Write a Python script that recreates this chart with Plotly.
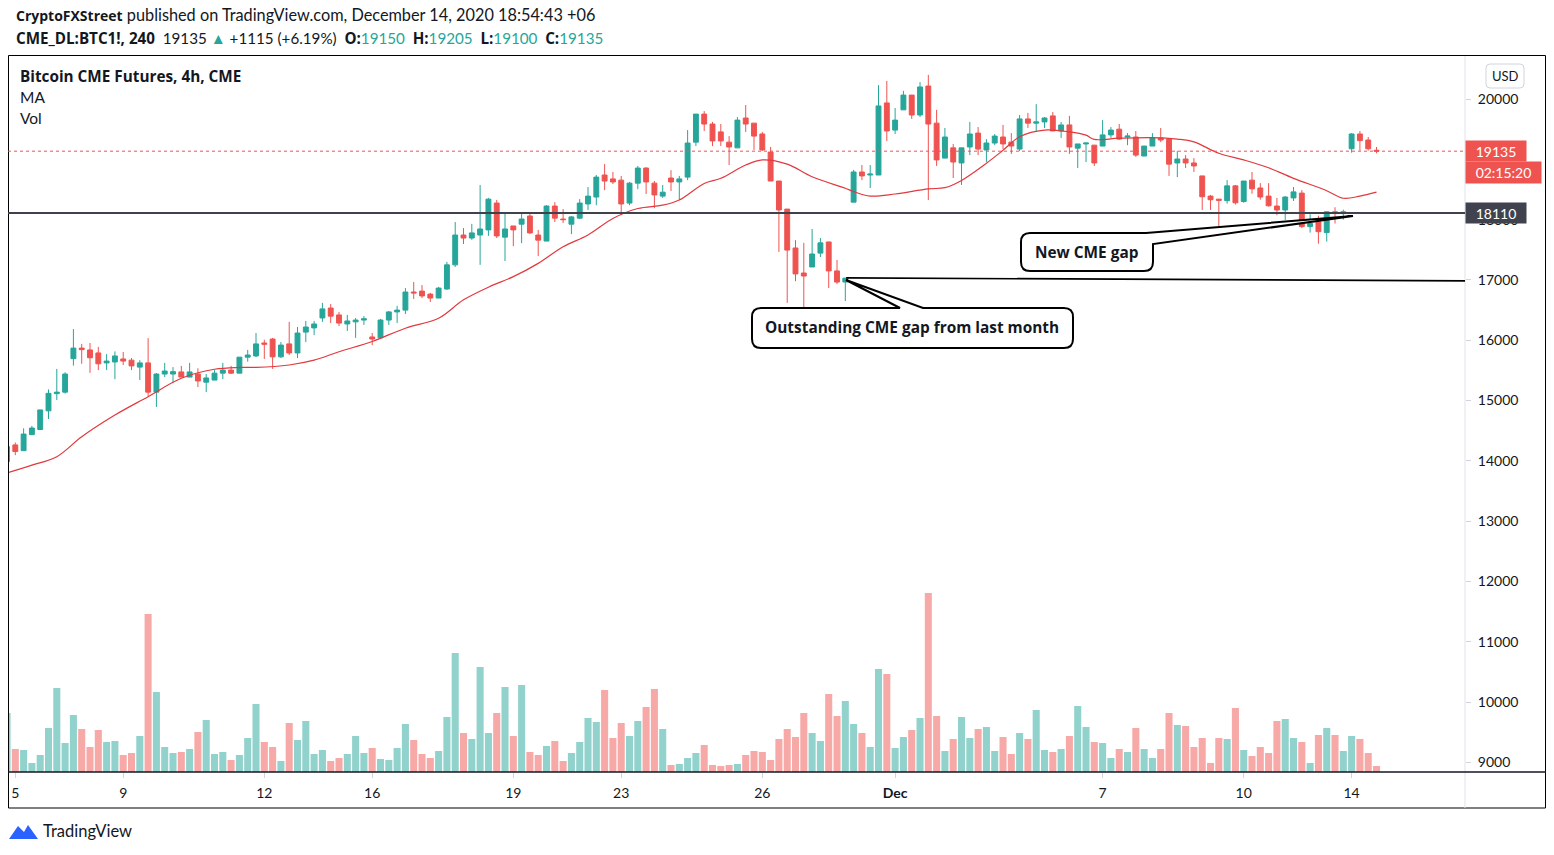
import plotly.graph_objects as go

# 4h CME bitcoin futures bars, Nov 5 - Dec 14 2020
opens = [
    13990, 14265, 14170, 14435, 14520, 14830, 15115, 15140, 15695, 15870,
    15840, 15790, 15625, 15640, 15690, 15670, 15555, 15625, 15140, 15440,
    15440, 15475, 15390, 15440, 15305, 15340, 15455, 15505, 15455, 15720,
    15740, 15955, 16020, 15725, 15940, 15790, 16135, 16205, 16370, 16535,
    16420, 16270, 16305, 16335, 16055, 16040, 16335, 16470, 16500, 16800,
    16815, 16765, 16700, 16850, 17250, 17745, 17695, 17745, 17830, 18275,
    17710, 17895, 17925, 18060, 17745, 17645, 18225, 18010, 17925, 18025,
    18260, 18375, 18740, 18675, 18655, 18275, 18605, 18855, 18605, 18390,
    18690, 18625, 18705, 19285, 19750, 19585, 19455, 19285, 19190, 19685,
    19600, 19420, 19120, 18640, 18175, 17530, 17115, 17215, 17445, 17630,
    17150, 16965, 18290, 18790, 18740, 18740, 19935, 19485, 19820, 20065,
    19735, 20215, 19600, 19020, 19190, 18940, 19205, 19435, 19155, 19270,
    19370, 19285, 19170, 19670, 19600, 19620, 19720, 19470, 19570, 19185,
    19255, 19235, 19220, 19405, 19500, 19370, 19370, 19055, 19220, 19355,
    19335, 18940, 19005, 18940, 18725, 18390, 18340, 18315, 18560, 18300,
    18655, 18525, 18390, 18225, 18160, 18360, 18440, 17885, 17965, 17785,
    18130, 18100, 19175, 19420, 19320, 19150,
]
highs = [
    14260, 14305, 14540, 14580, 14845, 15185, 15525, 15470, 16185, 15940,
    15955, 15890, 15770, 15815, 15805, 15705, 15670, 16035, 15455, 15625,
    15555, 15575, 15625, 15535, 15440, 15505, 15625, 15575, 15720, 15840,
    16120, 16010, 16040, 15970, 16305, 16220, 16320, 16320, 16620, 16600,
    16470, 16420, 16370, 16400, 16120, 16355, 16485, 16570, 16865, 16965,
    16915, 16785, 16885, 17300, 17960, 17860, 17930, 18575, 18360, 18325,
    18095, 17895, 18125, 18095, 17830, 18240, 18290, 18175, 18060, 18340,
    18540, 18740, 18920, 18790, 18725, 18625, 18890, 18870, 18640, 18575,
    18820, 18725, 19485, 19750, 19800, 19620, 19585, 19385, 19700, 19900,
    19600, 19455, 19205, 18640, 18175, 17660, 17615, 17845, 17695, 17630,
    17330, 17030, 18825, 18905, 18905, 20230, 20300, 19850, 20135, 20065,
    20280, 20400, 19820, 19520, 19255, 19190, 19620, 19535, 19335, 19420,
    19570, 19435, 19735, 19770, 19915, 19700, 19785, 19620, 19720, 19255,
    19270, 19235, 19650, 19535, 19585, 19435, 19470, 19220, 19435, 19520,
    19355, 19140, 19070, 19020, 18725, 18410, 18340, 18655, 18575, 18640,
    18790, 18605, 18605, 18360, 18390, 18540, 18490, 18090, 18065, 18130,
    18205, 18165, 19435, 19470, 19370, 19205,
]
lows = [
    13960, 14095, 14170, 14435, 14520, 14695, 15010, 15115, 15580, 15610,
    15460, 15505, 15505, 15355, 15590, 15505, 15340, 15075, 14895, 15390,
    15290, 15390, 15390, 15225, 15140, 15340, 15355, 15440, 15455, 15645,
    15720, 15690, 15525, 15705, 15755, 15705, 15970, 16085, 16305, 16285,
    16235, 16155, 16040, 16255, 15920, 16020, 16255, 16285, 16435, 16685,
    16700, 16635, 16700, 16835, 17215, 17595, 17665, 17250, 17730, 17695,
    17315, 17560, 17610, 17760, 17395, 17645, 17960, 17945, 17760, 18010,
    18160, 18240, 18490, 18590, 18075, 18240, 18505, 18425, 18190, 18360,
    18475, 18325, 18655, 19220, 19470, 19220, 19220, 18905, 19190, 19455,
    19155, 19140, 18640, 17465, 16620, 16980, 16550, 17215, 17380, 16865,
    16930, 16650, 18290, 18655, 18525, 18740, 19305, 19420, 19820, 19670,
    19700, 18325, 18890, 19020, 18690, 18575, 19070, 19070, 18955, 19235,
    19170, 19090, 19135, 19520, 19455, 19520, 19470, 19355, 19090, 18855,
    18955, 18890, 19220, 19355, 19320, 19235, 19040, 19055, 19220, 19285,
    18725, 18705, 18855, 18790, 18160, 18160, 17895, 18265, 18250, 18280,
    18430, 18330, 18215, 18075, 17995, 18310, 17860, 17785, 17600, 17635,
    17935, 18000, 19110, 19145, 19145, 19100,
]
closes = [
    14240, 14155, 14445, 14545, 14845, 15120, 15140, 15440, 15870, 15845,
    15710, 15610, 15655, 15740, 15655, 15575, 15625, 15140, 15440, 15490,
    15480, 15390, 15475, 15325, 15375, 15455, 15505, 15455, 15720, 15755,
    15940, 15935, 15725, 15920, 15790, 16120, 16220, 16270, 16520, 16400,
    16285, 16320, 16335, 16355, 16020, 16335, 16470, 16500, 16800, 16785,
    16735, 16700, 16865, 17250, 17745, 17695, 17780, 17845, 18340, 17730,
    17845, 17830, 18010, 17780, 17660, 18225, 18025, 18000, 18045, 18275,
    18390, 18705, 18640, 18625, 18260, 18605, 18855, 18625, 18410, 18455,
    18625, 18675, 19270, 19750, 19585, 19305, 19305, 19205, 19650, 19585,
    19385, 19155, 18640, 18160, 17495, 17100, 17065, 17430, 17615, 17150,
    16965, 17030, 18790, 18725, 18755, 19885, 19470, 19650, 20065, 19735,
    20200, 19585, 18990, 19370, 18955, 19190, 19420, 19170, 19270, 19385,
    19255, 19220, 19670, 19600, 19620, 19685, 19470, 19570, 19205, 19255,
    19270, 18940, 19405, 19485, 19335, 19385, 19070, 19220, 19355, 19320,
    18920, 19005, 18940, 18890, 18380, 18330, 18320, 18560, 18280, 18640,
    18510, 18375, 18230, 18160, 18375, 18460, 17885, 17935, 17800, 18130,
    18100, 18130, 19420, 19310, 19175, 19135,
]
volumes = [
    590, 230, 220, 90, 170, 440, 840, 290, 570, 430,
    250, 420, 300, 310, 170, 190, 360, 1580, 800, 250,
    190, 200, 230, 400, 520, 180, 200, 120, 170, 340,
    680, 300, 250, 110, 490, 320, 510, 180, 220, 110,
    140, 180, 360, 190, 240, 130, 120, 240, 480, 320,
    180, 140, 210, 550, 1190, 390, 330, 1050, 390, 590,
    850, 360, 870, 200, 170, 260, 310, 110, 190, 300,
    540, 500, 820, 340, 490, 360, 510, 650, 830, 430,
    70, 80, 140, 190, 270, 70, 60, 70, 80, 170,
    210, 200, 120, 330, 430, 350, 590, 390, 310, 780,
    560, 710, 480, 390, 250, 1030, 980, 240, 350, 420,
    540, 1790, 560, 210, 330, 550, 340, 430, 450, 210,
    350, 180, 390, 330, 620, 220, 200, 230, 360, 660,
    450, 300, 290, 140, 230, 200, 440, 230, 140, 230,
    590, 470, 460, 250, 340, 90, 340, 330, 640, 220,
    160, 250, 190, 510, 530, 340, 300, 90, 370, 440,
    370, 210, 360, 330, 190, 60,
]

# moving average line, sampled off the chart (bar index -> price)
ma_bars = [0, 3, 6, 9, 13, 17, 21, 25, 28, 30, 34, 37, 40, 44, 48, 52, 55, 58,
           61, 64, 67, 70, 73, 76, 79, 81, 84, 86, 89, 91, 94, 97, 101, 102,
           104, 107, 111, 113, 115, 118, 120, 122, 125, 128, 130, 131, 134,
           138, 141, 143, 146, 149, 152, 155, 159, 161, 163, 165]
ma_values = [13800, 13930, 14070, 14400, 14760, 15065, 15370, 15520, 15550,
             15550, 15590, 15670, 15810, 15980, 16200, 16365, 16670, 16880,
             17055, 17275, 17550, 17745, 18020, 18185, 18240, 18325, 18600,
             18685, 18905, 18990, 18920, 18710, 18520, 18465, 18390, 18425,
             18510, 18530, 18650, 18935, 19150, 19375, 19485, 19455, 19400,
             19330, 19350, 19360, 19335, 19290, 19100, 18990, 18860, 18685,
             18480, 18355, 18390, 18455]

tick_bars = [1, 14, 31, 44, 61, 74, 91, 107, 132, 149, 162]
tick_labels = ["5", "9", "12", "16", "19", "23", "26", "<b>Dec</b>", "7", "10", "14"]
price_ticks = [9000, 10000, 11000, 12000, 13000, 14000, 15000, 16000, 17000,
               18000, 19000, 20000]
# 19000 sits fully behind the last-price labels on the original
price_labels = ["9000", "10000", "11000", "12000", "13000", "14000", "15000",
                "16000", "17000", "18000", "", "20000"]

last_price = 19135
new_gap_level = 18110
old_gap_start = (101.1, 17035)
old_gap_end = (175.7, 16985)

UP = "#26a69a"
DOWN = "#ef5350"
TXT = "#131722"
FONT = "Lato"
BOLD = "Open Sans"

W, H = 1554, 855
L_PX, R_PX, T_PX, B_PX = 8, 1465, 56, 772   # plot area in pixels


def px(x):
    return (x - L_PX) / (R_PX - L_PX)


def py(y):
    return (B_PX - y) / (B_PX - T_PX)


def box_path(left, right, top, bottom, r, top_pts=None, start_right=None):
    # rounded box; top_pts replace the top-right part of the outline (callout wedge)
    p = f"M {px(left + r)},{py(top)} "
    if top_pts:
        for x, y in top_pts:
            p += f"L {px(x)},{py(y)} "
    if start_right is None:
        p += f"L {px(right - r)},{py(top)} Q {px(right)},{py(top)} {px(right)},{py(top + r)} "
    p += (f"L {px(right)},{py(bottom - r)} Q {px(right)},{py(bottom)} {px(right - r)},{py(bottom)} "
          f"L {px(left + r)},{py(bottom)} Q {px(left)},{py(bottom)} {px(left)},{py(bottom - r)} "
          f"L {px(left)},{py(top + r)} Q {px(left)},{py(top)} {px(left + r)},{py(top)} Z")
    return p


bars = list(range(len(opens)))
vol_colors = ["rgba(38,166,154,0.5)" if c >= o else "rgba(239,83,80,0.5)"
              for o, c in zip(opens, closes)]

fig = go.Figure()
fig.add_trace(go.Bar(
    x=bars, y=volumes, yaxis="y2", marker_color=vol_colors,
    marker_line_width=0, hoverinfo="skip",
))
fig.add_trace(go.Candlestick(
    x=bars, open=opens, high=highs, low=lows, close=closes,
    increasing=dict(line=dict(color=UP, width=1), fillcolor=UP),
    decreasing=dict(line=dict(color=DOWN, width=1), fillcolor=DOWN),
    whiskerwidth=0, hoverinfo="skip",
))
fig.add_trace(go.Scatter(
    x=ma_bars, y=ma_values, mode="lines",
    line=dict(color="#e0393e", width=1.2, shape="spline"), hoverinfo="skip",
))

shapes = [
    # outer frame and separators
    dict(type="rect", xref="paper", yref="paper", x0=px(8.5), x1=px(1545.5),
         y0=py(808), y1=py(55.5), line=dict(color="#000000", width=1), layer="above"),
    dict(type="line", xref="paper", yref="paper", x0=1, x1=1, y0=py(808), y1=py(56),
         line=dict(color="#e0e3eb", width=1)),
    dict(type="line", xref="paper", yref="paper", x0=px(8), x1=px(1546), y0=0, y1=0,
         line=dict(color="#131722", width=1.5)),
    # horizontal levels
    dict(type="line", xref="paper", yref="y", x0=0, x1=1, y0=new_gap_level, y1=new_gap_level,
         line=dict(color="#3f424c", width=2)),
    dict(type="line", xref="paper", yref="y", x0=0, x1=1, y0=last_price, y1=last_price,
         line=dict(color=DOWN, width=1, dash="dot")),
    dict(type="line", xref="x", yref="y", x0=old_gap_start[0], y0=old_gap_start[1],
         x1=old_gap_end[0], y1=old_gap_end[1], line=dict(color="#000000", width=1.6)),
    # callouts
    dict(type="path", xref="paper", yref="paper", fillcolor="#ffffff",
         line=dict(color="#000000", width=2),
         path=box_path(752, 1073, 308, 348, 9, top_pts=[(900, 308), (846, 280), (923, 308)])),
    dict(type="path", xref="paper", yref="paper", fillcolor="#ffffff",
         line=dict(color="#000000", width=2),
         path=box_path(1021, 1153, 233, 271, 9, top_pts=[(1146, 233), (1353, 216), (1153, 244)],
                       start_right=True)),
    # USD box
    dict(type="path", xref="paper", yref="paper", fillcolor="#ffffff",
         line=dict(color="#d1d4dc", width=1), path=box_path(1486, 1524, 64, 88, 4)),
    # TradingView logo (rough)
    dict(type="path", xref="paper", yref="paper", fillcolor="#2962ff", line=dict(width=0),
         path=(f"M {px(9)},{py(839)} L {px(18)},{py(826)} L {px(24)},{py(832)} "
               f"L {px(28)},{py(825)} L {px(38)},{py(839)} Z")),
]


def label(x, y, text, size=14, family=FONT, **kw):
    d = dict(x=px(x), y=py(y), xref="paper", yref="paper", xanchor="left", yanchor="middle",
             showarrow=False, font=dict(size=size, color=TXT, family=family), text=text)
    d.update(kw)
    return d


def b(s, size=None):
    st = f"font-family:{BOLD}"
    if size:
        st += f";font-size:{size}px"
    return f"<span style='{st}'><b>{s}</b></span>"


def teal(s):
    return f"<span style='color:{UP}'>{s}</span>"


annotations = [
    label(14, 15, b("CryptoFXStreet", 14) + " published on TradingView.com, December 14, 2020 18:54:43 +06",
          size=16.3),
    label(14, 38, b("CME_DL:BTC1!, 240") + "&nbsp;&nbsp;19135 " + teal("▲") + " +1115 (+6.19%)&nbsp;&nbsp;"
          + b("O:") + teal("19150") + "&nbsp;&nbsp;" + b("H:") + teal("19205") + "&nbsp;&nbsp;"
          + b("L:") + teal("19100") + "&nbsp;&nbsp;" + b("C:") + teal("19135"), size=15.2),
    label(18, 76, "<b>Bitcoin CME Futures, 4h, CME</b>", size=15.3, family=BOLD),
    label(18, 97, "MA", size=15.5),
    label(18, 118, "Vol", size=15.5),
    label(912, 327, "<b>Outstanding CME gap from last month</b>", size=15.4, family=BOLD,
          xanchor="center"),
    label(1087, 252, "<b>New CME gap</b>", size=15.4, family=BOLD, xanchor="center"),
    label(1505, 76, "USD", size=13, xanchor="center"),
    label(41, 831, "TradingView", size=16.5),
    dict(x=1, y=last_price, xref="paper", yref="y", xanchor="left", yanchor="middle",
         showarrow=False, width=60, height=20, borderpad=0, bgcolor=DOWN,
         font=dict(size=14, color="#ffffff", family=FONT), text=f"{last_price}"),
    dict(x=1, y=last_price, xref="paper", yref="y", xanchor="left", yanchor="middle", yshift=-21,
         showarrow=False, width=75, height=21, borderpad=0, bgcolor=DOWN,
         font=dict(size=14, color="#ffffff", family=FONT), text="02:15:20"),
    dict(x=1, y=new_gap_level, xref="paper", yref="y", xanchor="left", yanchor="middle",
         showarrow=False, width=60, height=20, borderpad=0, bgcolor="#40434e",
         font=dict(size=14, color="#ffffff", family=FONT), text=f"{new_gap_level}"),
]

fig.update_layout(
    width=W, height=H,
    margin=dict(l=L_PX, r=W - R_PX, t=T_PX, b=H - B_PX),
    paper_bgcolor="#ffffff", plot_bgcolor="#ffffff",
    showlegend=False, bargap=0.15, boxgap=0.16,
    font=dict(family=FONT, color=TXT, size=14),
    xaxis=dict(range=[0.12, 175.66], tickvals=tick_bars, ticktext=tick_labels,
               showgrid=False, zeroline=False, showline=False, ticks="outside",
               ticklen=5, tickcolor="#d1d4dc", tickfont=dict(size=14, color=TXT),
               rangeslider=dict(visible=False), fixedrange=True, ticklabelstandoff=3),
    yaxis=dict(range=[8842, 20713], side="right", tickvals=price_ticks, ticktext=price_labels,
               showgrid=False, zeroline=False, ticks="outside", ticklen=5,
               tickcolor="#d1d4dc", tickfont=dict(size=14, color=TXT),
               ticklabelstandoff=4, fixedrange=True),
    yaxis2=dict(range=[0, 7160], overlaying="y", visible=False, fixedrange=True),
    shapes=shapes,
    annotations=annotations,
)

# drop the browser's default body margin so the figure fills the window exactly
fig.write_html("out.html", config={"displayModeBar": False},
               post_script="document.body.style.margin='0px';document.body.style.overflow='hidden';")
